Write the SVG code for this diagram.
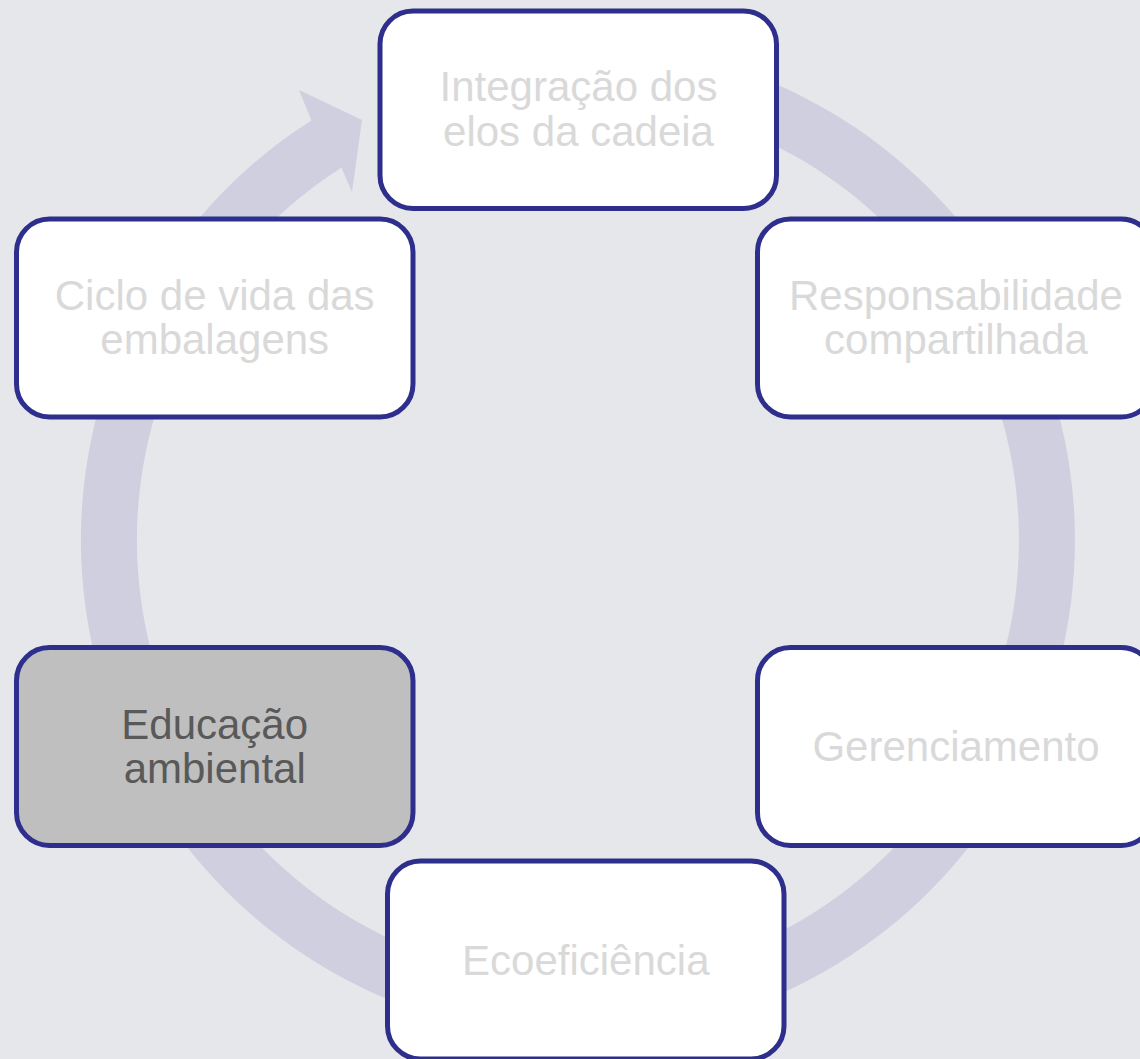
<svg xmlns="http://www.w3.org/2000/svg" width="1140" height="1059" viewBox="0 0 1140 1059">
<style>
.node rect{fill:#ffffff;stroke:#2e2f8c;stroke-width:5}
.node text{font-family:"Liberation Sans",Arial,sans-serif;font-size:42px;fill:#d9d9d9;text-anchor:middle}
#n-edu rect{fill:#bfbfbf}
#n-edu text{fill:#595959}
</style>
<rect x="0" y="0" width="1140" height="1059" fill="#e6e7ea"/>
<g id="connectors">
<path d="M578,43 A497,497 0 1 1 311.4,120.5 L299,90 L362,120 L352,192 L341.4,167.8 A441,441 0 1 0 578,99 Z" fill="#cfcfe0"/>
</g>
<g id="n-integracao" class="node">
<rect x="380" y="11" width="396.5" height="197.5" rx="33"/>
<text x="578.5" y="100.5">Integração dos</text>
<text x="578.5" y="146">elos da cadeia</text>
</g>
<g id="n-responsabilidade" class="node">
<rect x="757.5" y="219" width="396.5" height="198" rx="33"/>
<text x="956" y="310">Responsabilidade</text>
<text x="956" y="354">compartilhada</text>
</g>
<g id="n-gerenciamento" class="node">
<rect x="757.5" y="647.5" width="396.5" height="198" rx="33"/>
<text x="956" y="761">Gerenciamento</text>
</g>
<g id="n-ecoeficiencia" class="node">
<rect x="387.5" y="861" width="396.5" height="198" rx="33"/>
<text x="585.8" y="974.5">Ecoeficiência</text>
</g>
<g id="n-edu" class="node">
<rect x="16.5" y="647.5" width="396.5" height="198" rx="33"/>
<text x="214.7" y="738.5">Educação</text>
<text x="214.7" y="782.5">ambiental</text>
</g>
<g id="n-ciclo" class="node">
<rect x="16.5" y="219" width="396.5" height="198" rx="33"/>
<text x="214.7" y="310">Ciclo de vida das</text>
<text x="214.7" y="354">embalagens</text>
</g>
</svg>
